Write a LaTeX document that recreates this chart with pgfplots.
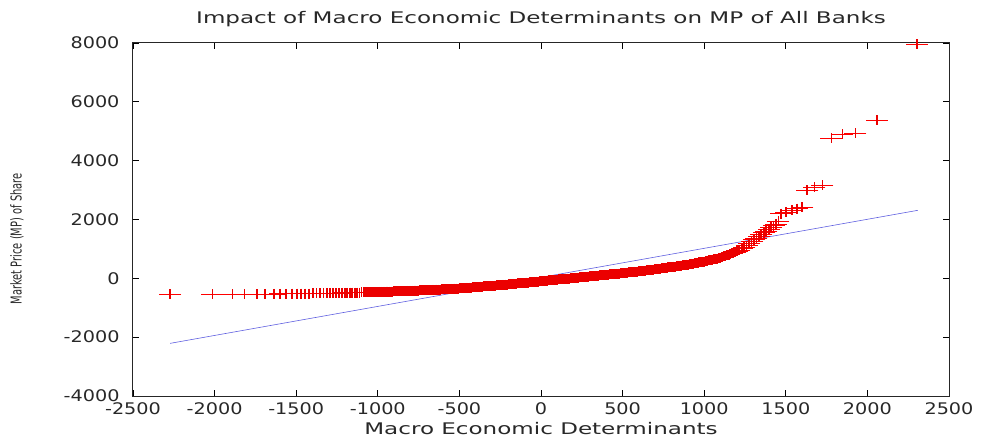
\documentclass[border=0pt]{standalone}
\usepackage{fontspec}
\usepackage{graphicx}
\usepackage{pgfplots}
\usepackage{pgfplotstable}
\pgfplotsset{compat=1.18}
\setmainfont{DejaVu Sans}[FakeStretch=1.2]
\newfontfamily\widefont{DejaVu Sans}[FakeStretch=1.44]
\newfontfamily\narrowfont{DejaVu Sans}[FakeStretch=0.66]
\definecolor{markred}{RGB}{255,0,0}
\definecolor{fitblue}{RGB}{96,96,224}
\definecolor{txt}{RGB}{40,40,40}
% sorted observations
\pgfplotstableread[row sep=\\]{
x y\\
-2272 -545\\ -2013 -541\\ -1890 -538\\ -1816 -536\\ -1742 -534\\ -1693 -532\\ -1638 -530\\ -1601 -528\\
-1564 -526\\ -1527 -524\\ -1497 -522\\ -1470 -520\\ -1445 -518\\ -1420 -516\\ -1397 -514\\ -1375 -512\\
-1353 -510\\ -1332 -508\\ -1312 -506\\ -1292 -504\\ -1273 -502\\ -1255 -500\\ -1237 -498\\ -1220 -496\\
-1203 -494\\ -1187 -492\\ -1171 -490\\ -1156 -488\\ -1141 -486\\ -1127 -485\\ -1113 -483\\ -1099 -481\\ -1088 -479\\
-1080 -477\\ -1070 -476\\ -1060 -474\\ -1050 -473\\ -1040 -471\\ -1030 -470\\ -1020 -468\\ -1010 -467\\ -1000 -465\\
-990 -463\\ -980 -461\\ -970 -460\\ -960 -458\\ -950 -456\\ -940 -454\\ -930 -452\\ -920 -451\\ -910 -449\\ -900 -447\\
-890 -445\\ -880 -443\\ -870 -441\\ -860 -438\\ -850 -437\\ -840 -435\\ -830 -432\\ -820 -430\\ -810 -428\\ -800 -426\\
-790 -424\\ -780 -421\\ -770 -419\\ -760 -416\\ -750 -414\\ -740 -412\\ -730 -409\\ -720 -407\\ -710 -404\\ -700 -402\\
-690 -399\\ -680 -397\\ -670 -394\\ -660 -391\\ -650 -389\\ -640 -386\\ -630 -383\\ -620 -380\\ -610 -378\\ -600 -375\\
-590 -372\\ -580 -369\\ -570 -366\\ -560 -363\\ -550 -360\\ -540 -357\\ -530 -354\\ -520 -351\\ -510 -348\\ -500 -345\\
-490 -340\\ -480 -336\\ -470 -331\\ -460 -327\\ -450 -322\\ -440 -318\\ -430 -313\\ -420 -309\\ -410 -304\\ -400 -300\\
-390 -295\\ -380 -291\\ -370 -286\\ -360 -282\\ -350 -277\\ -340 -273\\ -330 -268\\ -320 -264\\ -310 -259\\ -300 -255\\
-290 -250\\ -280 -245\\ -270 -240\\ -260 -235\\ -250 -230\\ -240 -225\\ -230 -220\\ -220 -215\\ -210 -210\\ -200 -205\\
-190 -200\\ -180 -195\\ -170 -190\\ -160 -185\\ -150 -180\\ -140 -175\\ -130 -170\\ -120 -165\\ -110 -160\\ -100 -155\\
-90 -149\\ -80 -144\\ -70 -138\\ -60 -133\\ -50 -127\\ -40 -122\\ -30 -116\\ -20 -111\\ -10 -105\\ 0 -100\\
10 -94\\ 20 -89\\ 30 -83\\ 40 -78\\ 50 -72\\ 60 -67\\ 70 -61\\ 80 -56\\ 90 -50\\ 100 -45\\
110 -39\\ 120 -34\\ 130 -28\\ 140 -23\\ 150 -17\\ 160 -12\\ 170 -6\\ 180 -1\\ 190 5\\ 200 10\\
210 16\\ 220 21\\ 230 27\\ 240 32\\ 250 38\\ 260 43\\ 270 49\\ 280 54\\ 290 60\\ 300 65\\
310 71\\ 320 76\\ 330 82\\ 340 87\\ 350 93\\ 360 98\\ 370 104\\ 380 109\\ 390 115\\ 400 120\\
410 126\\ 420 131\\ 430 137\\ 440 142\\ 450 148\\ 460 153\\ 470 159\\ 480 164\\ 490 170\\ 500 175\\
510 181\\ 520 187\\ 530 193\\ 540 199\\ 550 205\\ 560 211\\ 570 217\\ 580 223\\ 590 229\\ 600 235\\
610 242\\ 620 249\\ 630 256\\ 640 263\\ 650 270\\ 660 277\\ 670 284\\ 680 291\\ 690 298\\ 700 305\\
710 313\\ 720 321\\ 730 329\\ 740 337\\ 750 345\\ 760 353\\ 770 361\\ 780 369\\ 790 377\\ 800 385\\
810 394\\ 820 402\\ 830 411\\ 840 419\\ 850 428\\ 860 436\\ 870 445\\ 880 453\\ 890 462\\ 900 470\\
910 480\\ 920 490\\ 930 500\\ 940 510\\ 950 520\\ 960 530\\ 970 540\\ 980 550\\ 990 560\\ 1000 570\\
1010 583\\ 1020 596\\ 1030 609\\ 1040 622\\ 1050 635\\ 1060 648\\ 1070 661\\ 1080 674\\ 1090 687\\ 1100 700\\
1110 722\\ 1120 744\\ 1130 766\\ 1140 788\\ 1150 810\\ 1160 832\\ 1170 854\\ 1180 876\\ 1190 898\\ 1200 920\\
1215 965\\ 1230 1010\\ 1245 1060\\ 1260 1115\\ 1275 1190\\ 1290 1250\\ 1305 1310\\ 1320 1370\\ 1335 1430\\
1350 1490\\ 1365 1550\\ 1380 1610\\ 1395 1670\\ 1410 1730\\ 1425 1790\\ 1440 1850\\ 1455 1950\\
1470 2200\\ 1502 2250\\ 1539 2310\\ 1570 2370\\ 1601 2410\\
1632 2990\\ 1675 3090\\ 1724 3160\\ 1780 4760\\ 1847 4900\\ 1927 4930\\ 2057 5370\\ 2303 7950\\
}\obsdata
\begin{document}
\begin{tikzpicture}
\path[use as bounding box] (-133bp,-41bp) rectangle (851bp,396bp);
\begin{axis}[
  scale only axis,
  width=816bp, height=353bp,
  xmin=-2500, xmax=2500, ymin=-4000, ymax=8000,
  xtick={-2500,-2000,...,2500},
  ytick={-4000,-2000,...,8000},
  scaled x ticks=false, scaled y ticks=false,
  /pgf/number format/1000 sep={},
  /pgf/number format/assume math mode=true,
  tick align=inside,
  major tick length=6bp,
  every tick/.style={line width=0.8bp, black},
  axis line style={line width=1bp, black!85},
  ticklabel style={font=\fontsize{16bp}{18bp}\selectfont, text=txt},
  yticklabel style={xshift=-10bp},
  xticklabel style={yshift=-3bp},
  title={\widefont\fontsize{16bp}{18bp}\selectfont Impact of Macro Economic Determinants on MP of All Banks},
  title style={at={(axis description cs:0.5,1)}, anchor=base, yshift=14bp, text=txt, inner sep=0pt},
  xlabel={\widefont\fontsize{16bp}{18bp}\selectfont Macro Economic Determinants},
  xlabel style={at={(axis description cs:0.5,0)}, anchor=base, yshift=-38bp, text=txt, inner sep=0pt},
  ylabel={\narrowfont\fontsize{15bp}{17bp}\selectfont Market Price (MP) of Share},
  ylabel style={at={(axis description cs:-0.1422,0.445)}, anchor=center, text=txt, inner sep=0pt},
  clip=false,
]
% crosses: thin horizontal arm, heavier vertical arm
\addplot[only marks, mark=-, mark size=11bp, color=markred,
  mark options={line width=0.8bp}] table {\obsdata};
\addplot[only marks, mark=|, mark size=5bp, color=markred!92!black,
  mark options={line width=1.7bp}] table {\obsdata};
% reference line
\addplot[color=fitblue, line width=0.6bp] coordinates {(-2272,-2210) (2309,2312)};
\end{axis}
\end{tikzpicture}
\end{document}
